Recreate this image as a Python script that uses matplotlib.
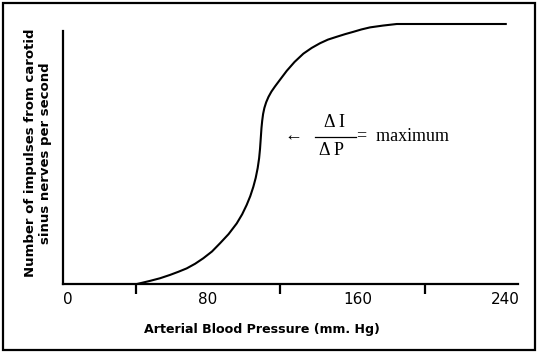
import matplotlib
matplotlib.use("Agg")
import matplotlib.pyplot as plt
import matplotlib.transforms as mtransforms
from matplotlib.patches import Rectangle
from matplotlib.lines import Line2D

# curve: arterial pressure (mm Hg) vs impulse rate (% of max)
pressure = [40.8, 48.0, 53.5, 59.1, 63.7, 68.3, 73.0, 77.5, 82.3, 86.8,
            91.5, 96.0, 99.0, 101.5, 103.5, 105.2, 106.5, 107.6, 108.4,
            108.9, 109.3, 109.7, 110.1, 110.6, 111.3, 112.3, 113.6, 115.2,
            117.2, 120.0, 123.7, 128.0, 132.9, 137.5, 142.1, 146.5, 151.4,
            156.0, 160.6, 165.0, 169.8, 177.0, 184.6, 245.5]
impulses = [0.0, 1.2, 2.2, 3.5, 4.7, 6.0, 7.8, 9.9, 12.5, 15.7,
            19.2, 23.3, 26.8, 30.4, 33.8, 37.4, 40.8, 44.6, 48.4,
            52.0, 56.0, 60.0, 62.8, 65.4, 67.7, 69.9, 72.0, 74.0,
            76.0, 78.6, 82.0, 85.4, 88.6, 90.8, 92.6, 94.0, 95.1,
            96.1, 97.0, 97.9, 98.7, 99.4, 100.0, 100.0]

label_ticks = [0, 80, 160, 240]
tick_labels = ["0", "80", "160", "240"]
mark_ticks = [40, 120, 200]

serif = ["Liberation Serif", "DejaVu Serif"]

fig = plt.figure(figsize=(5.38, 3.53), dpi=100)
fig.patch.set_facecolor("white")

# axes placed in pixels: left spine x=63, bottom y=284, top (plateau) y=24, right end x=518
W, H = 538, 353
ax = fig.add_axes([63.3 / W, (H - 284) / H, (518 - 63.3) / W, (284 - 24) / H])
ax.set_xlim(0, 251.7)
ax.set_ylim(0, 100)

ax.plot(pressure, impulses, color="black", lw=1.5, clip_on=False,
        solid_capstyle="butt", solid_joinstyle="round")

for s in ["top", "right"]:
    ax.spines[s].set_visible(False)
for s in ["left", "bottom"]:
    ax.spines[s].set_linewidth(1.6)
ax.spines["left"].set_bounds(0, 97.3)

ax.set_yticks([])
ax.set_xticks(label_ticks)
ax.set_xticklabels(tick_labels, fontsize=11, family="DejaVu Sans")
ax.tick_params(axis="x", which="major", length=0, pad=6)
ax.set_xticks(mark_ticks, minor=True)
ax.tick_params(axis="x", which="minor", direction="out", length=7,
               width=1.6, color="black")

# the hand-set labels in the original sit a little right of the scale
labels = ax.get_xticklabels()
labels[0].set_ha("left")
for lab, dx in zip(labels, [0, 0, 5, 8]):
    if dx:
        lab.set_transform(lab.get_transform() +
                          mtransforms.ScaledTranslation(dx / 100, 0, fig.dpi_scale_trans))

# ΔI / ΔP = maximum annotation
ax.text(127.2, 56.9, "\u2190", family=serif, fontsize=13, ha="center", va="center")
ax.text(149.9, 62.3, "\u0394 I", family=serif, fontsize=13, ha="center", va="center")
ax.text(148.2, 51.2, "\u0394 P", family=serif, fontsize=13, ha="center", va="center")
ax.add_line(Line2D([139.4, 162.2], [56.5, 56.5], color="black", lw=0.9))
ax.text(162.6, 56.9, "=  maximum", family=serif, fontsize=13, ha="left", va="center")

fig.text(261.5 / W, (H - 329) / H, "Arterial Blood Pressure (mm. Hg)",
         fontsize=9.1, fontweight="bold", ha="center", va="center")
fig.text(38 / W, (H - 153) / H,
         "Number of impulses from carotid\nsinus nerves per second",
         fontsize=9.5, fontweight="bold", ha="center", va="center",
         rotation=90, linespacing=1.25, multialignment="center")

# black frame round the whole picture
fig.patches.append(Rectangle((2.5 / W, 3.5 / H), 532 / W, 347 / H,
                             transform=fig.transFigure, fill=False,
                             edgecolor="black", linewidth=1.6))

fig.savefig("out.png", dpi=100)
